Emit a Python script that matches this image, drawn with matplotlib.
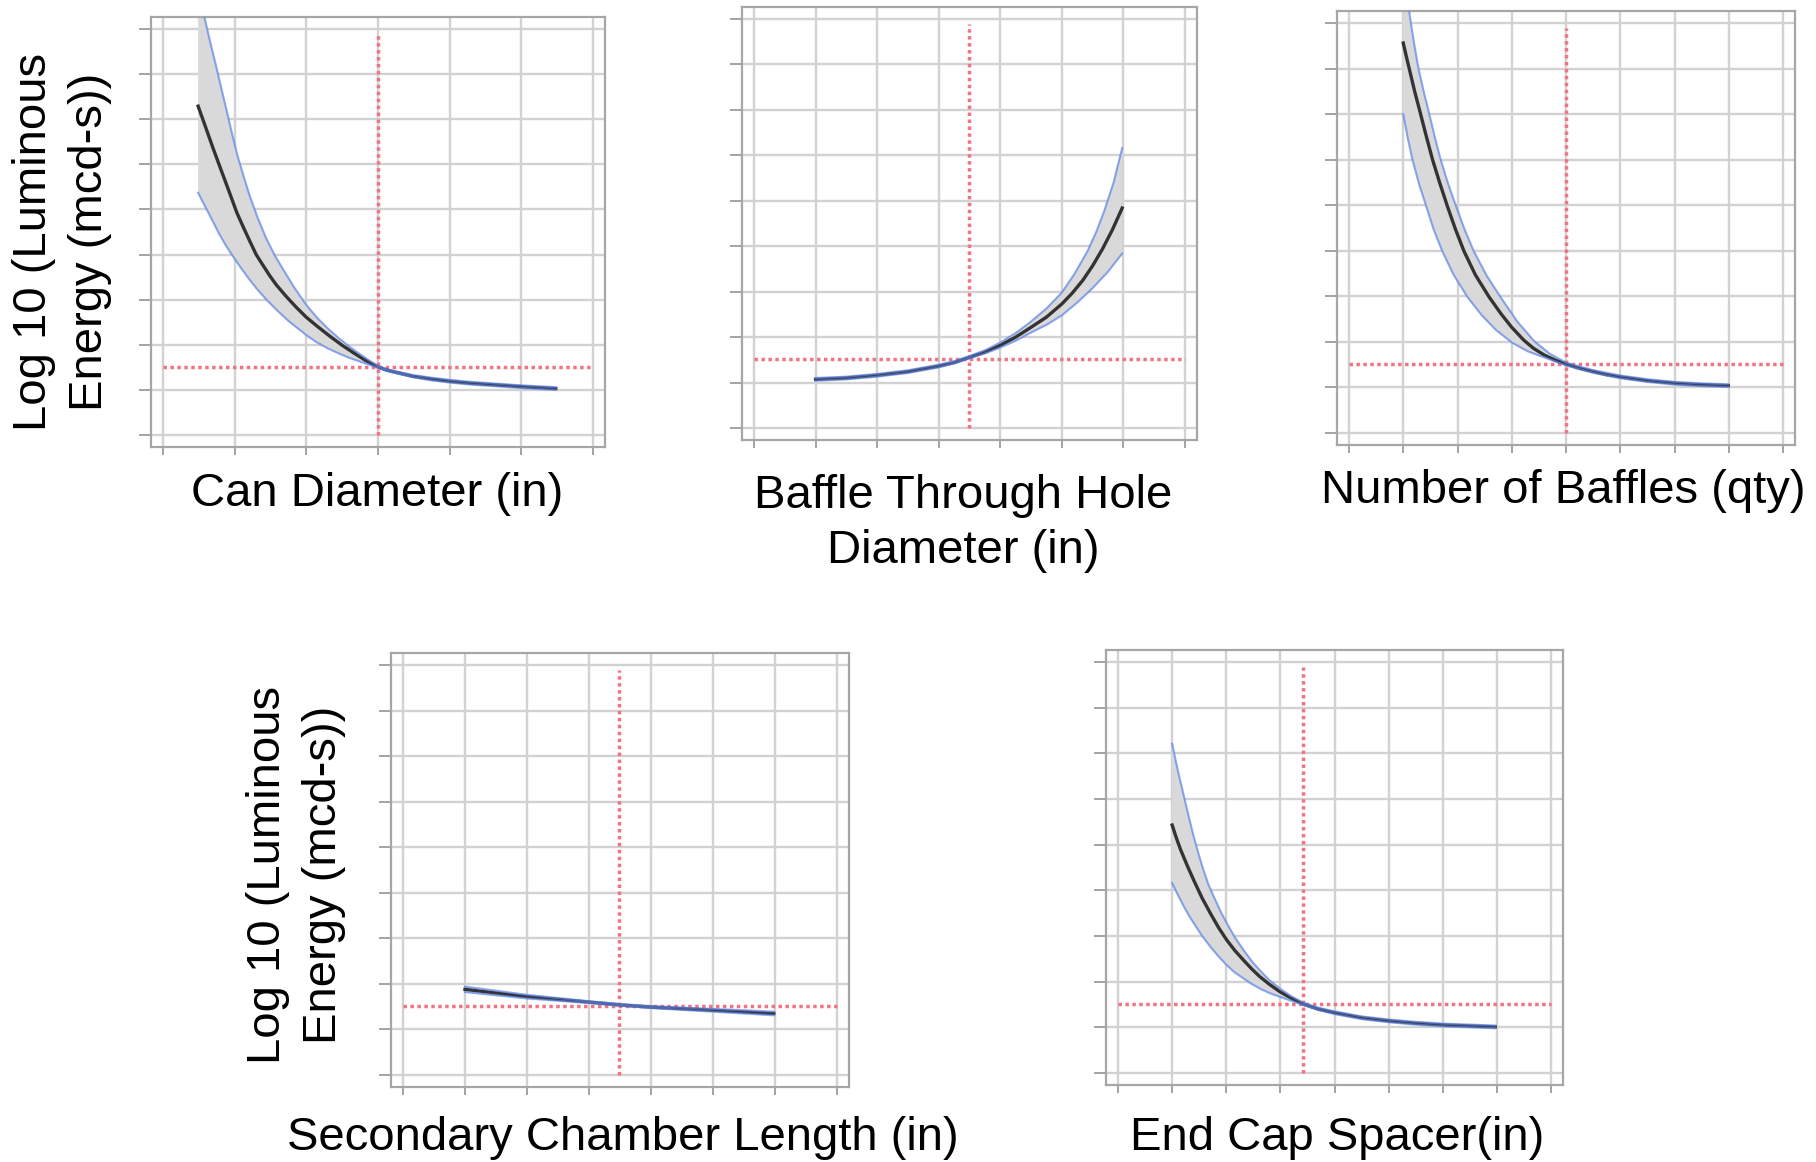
import matplotlib
matplotlib.use("Agg")
import matplotlib.pyplot as plt

plt.rcParams['font.family'] = ['Liberation Sans', 'DejaVu Sans']

W, H = 1816, 1162

# --- Can Diameter (in) ---
can_mean_x = [0.49, 0.60, 0.70, 0.80, 0.91, 1.03, 1.12, 1.21, 1.30, 1.40, 1.49, 1.58, 1.72, 1.86,
              2.0, 2.16, 2.32, 2.49, 2.66, 2.83, 3.0, 3.12, 3.25, 3.49, 3.75, 4.01, 4.28, 4.55,
              5.01, 5.48]
can_mean_y = [7.29, 6.80, 6.35, 5.92, 5.45, 4.93, 4.61, 4.30, 4.00, 3.75, 3.53, 3.33, 3.07, 2.83,
              2.61, 2.40, 2.20, 2.00, 1.82, 1.65, 1.51, 1.44, 1.39, 1.30, 1.24, 1.19, 1.15, 1.12,
              1.07, 1.03]
can_up_x = [0.49, 0.571, 0.66, 0.75, 0.82, 0.89, 0.96, 1.035, 1.12, 1.21, 1.32, 1.44, 1.56, 1.68,
            1.84, 2.0, 2.15, 2.30, 2.45, 2.60, 2.75, 2.88, 3.0, 3.12, 3.25, 3.49, 3.75, 4.01,
            4.28, 4.55, 5.01, 5.48]
can_up_y = [9.9, 9.31, 8.70, 8.12, 7.64, 7.18, 6.70, 6.22, 5.76, 5.30, 4.82, 4.36, 3.98, 3.66,
            3.25, 2.88, 2.60, 2.36, 2.15, 1.96, 1.79, 1.65, 1.53, 1.46, 1.41, 1.33, 1.27, 1.22,
            1.18, 1.15, 1.10, 1.06]
can_lo_x = [0.49, 0.55, 0.61, 0.70, 0.78, 0.87, 0.96, 1.08, 1.20, 1.32, 1.45, 1.60, 1.75, 1.90,
            2.02, 2.14, 2.30, 2.45, 2.60, 2.80, 3.0, 3.12, 3.25, 3.49, 3.75, 4.01, 4.28, 4.55,
            5.01, 5.48]
can_lo_y = [5.37, 5.18, 5.00, 4.72, 4.47, 4.22, 4.00, 3.72, 3.46, 3.22, 2.99, 2.75, 2.53, 2.34,
            2.19, 2.06, 1.92, 1.81, 1.71, 1.60, 1.49, 1.42, 1.37, 1.28, 1.21, 1.16, 1.12, 1.09,
            1.04, 1.00]
can_setting, can_response = 3.0, 1.51

# --- Baffle Through Hole Diameter (in) ---
bth_mean_x = [1.0, 1.5, 2.0, 2.5, 2.99, 3.25, 3.49, 3.75, 4.0, 4.25, 4.47, 4.75, 5.0, 5.17,
              5.34, 5.50, 5.66, 5.82, 5.98]
bth_mean_y = [1.07, 1.10, 1.16, 1.24, 1.36, 1.44, 1.55, 1.67, 1.82, 2.00, 2.19, 2.44, 2.73, 2.97,
              3.25, 3.57, 3.94, 4.36, 4.84]
bth_up_x = [1.0, 1.5, 2.0, 2.5, 2.99, 3.25, 3.49, 3.75, 4.0, 4.25, 4.47, 4.75, 5.0, 5.21,
            5.42, 5.56, 5.69, 5.84, 5.98]
bth_up_y = [1.10, 1.13, 1.19, 1.27, 1.39, 1.47, 1.58, 1.71, 1.88, 2.09, 2.31, 2.63, 2.98, 3.40,
            3.90, 4.32, 4.78, 5.40, 6.16]
bth_lo_x = [1.0, 1.5, 2.0, 2.5, 2.99, 3.25, 3.49, 3.75, 4.0, 4.25, 4.47, 4.75, 5.0, 5.25,
            5.5, 5.75, 5.98]
bth_lo_y = [1.04, 1.07, 1.13, 1.21, 1.33, 1.42, 1.53, 1.64, 1.77, 1.92, 2.08, 2.27, 2.48, 2.76,
            3.08, 3.44, 3.84]
bth_setting, bth_response = 3.49, 1.51

# --- Number of Baffles (qty) ---
nb_mean_x = [1.0, 1.05, 1.11, 1.21, 1.32, 1.43, 1.54, 1.67, 1.81, 1.96, 2.12, 2.33, 2.58, 2.80,
             3.0, 3.22, 3.40, 3.6, 3.80, 4.01, 4.25, 4.50, 4.75, 5.01, 5.5, 6.03, 6.5, 6.99]
nb_mean_y = [8.56, 8.30, 8.0, 7.50, 7.0, 6.49, 6.0, 5.50, 4.99, 4.48, 3.99, 3.47, 2.99, 2.62,
             2.32, 2.04, 1.86, 1.71, 1.60, 1.51, 1.42, 1.35, 1.28, 1.23, 1.15, 1.09, 1.06, 1.04]
nb_up_x = [1.0, 1.07, 1.14, 1.21, 1.28, 1.38, 1.48, 1.58, 1.69, 1.83, 1.97, 2.13, 2.30, 2.54,
           2.79, 3.10, 3.41, 3.7, 4.01, 4.5, 5.01, 5.5, 6.03, 6.5, 6.99]
nb_up_y = [10.3, 9.6, 9.0, 8.48, 8.0, 7.48, 7.0, 6.5, 6.0, 5.46, 4.99, 4.47, 3.99, 3.45,
           2.99, 2.45, 2.02, 1.74, 1.54, 1.38, 1.26, 1.18, 1.12, 1.09, 1.07]
nb_lo_x = [1.0, 1.08, 1.17, 1.29, 1.42, 1.56, 1.72, 1.93, 2.18, 2.45, 2.72, 3.01, 3.3, 3.6,
           4.01, 4.5, 5.01, 5.5, 6.03, 6.5, 6.99]
nb_lo_y = [7.0, 6.49, 6.0, 5.47, 4.99, 4.47, 3.99, 3.47, 2.99, 2.58, 2.25, 1.98, 1.79, 1.66,
           1.48, 1.32, 1.20, 1.12, 1.06, 1.03, 1.01]
nb_setting, nb_response = 4.0, 1.51

# --- Secondary Chamber Length (in) ---
scl_x = [1.0, 1.5, 2.0, 2.5, 3.0, 3.49, 4.0, 4.5, 5.0, 5.5, 5.98]
scl_mean = [1.88, 1.80, 1.72, 1.66, 1.60, 1.54, 1.49, 1.455, 1.42, 1.385, 1.35]
scl_up = [1.94, 1.85, 1.76, 1.69, 1.62, 1.56, 1.51, 1.48, 1.45, 1.42, 1.39]
scl_lo = [1.82, 1.75, 1.68, 1.63, 1.58, 1.52, 1.47, 1.43, 1.39, 1.35, 1.31]
scl_setting, scl_response = 3.49, 1.51

# --- End Cap Spacer(in) ---
ecs_mean_x = [1.0, 1.08, 1.16, 1.28, 1.40, 1.55, 1.71, 1.86, 2.01, 2.16, 2.32, 2.47, 2.62, 2.80,
              2.99, 3.2, 3.42, 3.7, 4.0, 4.5, 5.01, 5.5, 6.02, 6.5, 6.97]
ecs_mean_y = [5.43, 5.14, 4.88, 4.54, 4.22, 3.84, 3.49, 3.18, 2.91, 2.68, 2.47, 2.28, 2.11, 1.94,
              1.78, 1.64, 1.51, 1.40, 1.32, 1.21, 1.14, 1.09, 1.05, 1.03, 1.01]
ecs_up_x = [1.0, 1.11, 1.22, 1.31, 1.40, 1.49, 1.58, 1.67, 1.77, 1.89, 2.01, 2.16, 2.32, 2.47,
            2.62, 2.80, 2.99, 3.2, 3.42, 3.7, 4.0, 4.5, 5.01, 5.5, 6.02, 6.5, 6.97]
ecs_up_y = [7.21, 6.60, 6.05, 5.60, 5.17, 4.79, 4.44, 4.13, 3.86, 3.55, 3.28, 2.97, 2.69, 2.45,
            2.25, 2.03, 1.85, 1.68, 1.54, 1.43, 1.35, 1.24, 1.17, 1.12, 1.08, 1.06, 1.04]
ecs_lo_x = [1.0, 1.11, 1.22, 1.31, 1.40, 1.55, 1.71, 1.86, 2.01, 2.16, 2.32, 2.47, 2.62, 2.80,
            2.99, 3.2, 3.42, 3.7, 4.0, 4.5, 5.01, 5.5, 6.02, 6.5, 6.97]
ecs_lo_y = [4.16, 3.89, 3.64, 3.45, 3.28, 3.01, 2.76, 2.55, 2.36, 2.20, 2.07, 1.95, 1.85, 1.75,
            1.67, 1.58, 1.49, 1.38, 1.29, 1.18, 1.11, 1.06, 1.02, 1.00, 0.98]
ecs_setting, ecs_response = 3.42, 1.51

ylabel_text = "Log 10 (Luminous\nEnergy (mcd-s))"
n_yticks = 10
ref_top = 8.9   # top end of the vertical reference line

panels = [
    dict(box=(151, 17, 605, 447), nx=7, label="Can Diameter (in)", lab_xy=(377, 506),
         mean=(can_mean_x, can_mean_y), up=(can_up_x, can_up_y), lo=(can_lo_x, can_lo_y),
         ref=(can_setting, can_response)),
    dict(box=(742, 7, 1197, 440), nx=8, label="Baffle Through Hole\nDiameter (in)", lab_xy=(963, 563),
         mean=(bth_mean_x, bth_mean_y), up=(bth_up_x, bth_up_y), lo=(bth_lo_x, bth_lo_y),
         ref=(bth_setting, bth_response)),
    dict(box=(1337, 11, 1795, 445), nx=9, label="Number of Baffles (qty)", lab_xy=(1563, 503),
         mean=(nb_mean_x, nb_mean_y), up=(nb_up_x, nb_up_y), lo=(nb_lo_x, nb_lo_y),
         ref=(nb_setting, nb_response)),
    dict(box=(391, 653, 849, 1087), nx=8, label="Secondary Chamber Length (in)", lab_xy=(623, 1150),
         mean=(scl_x, scl_mean), up=(scl_x, scl_up), lo=(scl_x, scl_lo),
         ref=(scl_setting, scl_response)),
    dict(box=(1106, 650, 1563, 1085), nx=9, label="End Cap Spacer(in)", lab_xy=(1337, 1150),
         mean=(ecs_mean_x, ecs_mean_y), up=(ecs_up_x, ecs_up_y), lo=(ecs_lo_x, ecs_lo_y),
         ref=(ecs_setting, ecs_response)),
]

FRAME = "#a6a6a6"
GRID = "#d2d2d2"
BAND = "#d9d9d9"
EDGE = "#5b82e6"
MEAN = "#333333"
REF = "#f27484"


def fx(x):
    return x / W


def fy(y):
    return 1 - y / H


fig = plt.figure(figsize=(W / 100, H / 100), dpi=100)

for p in panels:
    x0, y0, x1, y1 = p["box"]
    ax = fig.add_axes([fx(x0), fy(y1), (x1 - x0) / W, (y1 - y0) / H])
    nx = p["nx"]
    # roughly 12 px of padding between the outer ticks and the frame
    xpad = 12 / ((x1 - x0 - 24) / (nx - 1))
    ypad = 12 / ((y1 - y0 - 24) / (n_yticks - 1))
    ax.set_xlim(-xpad, nx - 1 + xpad)
    ax.set_ylim(-ypad, n_yticks - 1 + ypad)
    ax.set_xticks(range(nx))
    ax.set_yticks(range(n_yticks))
    ax.set_xticklabels([])
    ax.set_yticklabels([])
    ax.grid(True, color=GRID, lw=1.7, zorder=0)
    ax.set_axisbelow(True)
    for s in ax.spines.values():
        s.set_color(FRAME)
        s.set_linewidth(1.6)
    ax.tick_params(axis="y", direction="out", length=8.5, width=1.3, color="#9c9c9c")
    ax.tick_params(axis="x", direction="out", length=6, width=1.3, color="#9c9c9c")

    ux, uy = p["up"]
    lx, ly = p["lo"]
    mx, my = p["mean"]
    ax.fill(list(ux) + list(lx)[::-1], list(uy) + list(ly)[::-1],
            color=BAND, lw=0, zorder=2)

    sx, sy = p["ref"]
    ax.plot([sx, sx], [0, ref_top], color=REF, lw=2.5, ls=(0, (1, 1.0)), zorder=3)
    ax.plot([0, nx - 1], [sy, sy], color=REF, lw=2.5, ls=(0, (1, 1.0)), zorder=3)

    # mean line underneath, translucent limits on top (they merge to dark blue where the band is thin)
    ax.plot(mx, my, color=MEAN, lw=2.4, zorder=4, solid_joinstyle="round")
    ax.plot(ux, uy, color=EDGE, lw=1.5, alpha=0.7, zorder=5, solid_joinstyle="round")
    ax.plot(lx, ly, color=EDGE, lw=1.5, alpha=0.7, zorder=5, solid_joinstyle="round")

    lx_, ly_ = p["lab_xy"]
    fig.text(fx(lx_), fy(ly_), p["label"], ha="center", va="baseline",
             fontsize=34, linespacing=1.33, multialignment="center")

# shared y labels for each row
fig.text(fx(62), fy(242), ylabel_text, rotation=90, ha="center", va="center",
         fontsize=34, linespacing=1.35, multialignment="center")
fig.text(fx(296), fy(875), ylabel_text, rotation=90, ha="center", va="center",
         fontsize=34, linespacing=1.35, multialignment="center")

fig.savefig("out.png", dpi=100, facecolor="white")
